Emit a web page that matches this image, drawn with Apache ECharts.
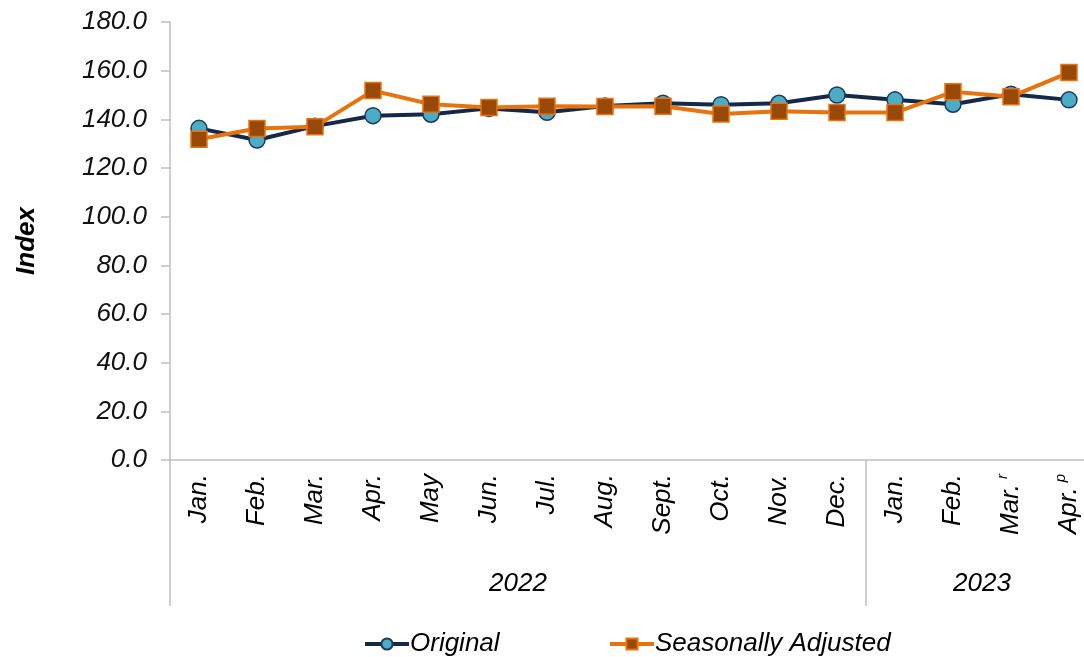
<!DOCTYPE html>
<html>
<head>
<meta charset="utf-8">
<script src="https://cdn.jsdelivr.net/npm/echarts@6/dist/echarts.min.js"></script>
<style>
  html, body { margin: 0; padding: 0; background: #fff; }
  #echart { width: 1084px; height: 657px; }
</style>
</head>
<body>
<div id="echart"></div>
<script>
var months = ['Jan.', 'Feb.', 'Mar.', 'Apr.', 'May', 'Jun.', 'Jul.', 'Aug.', 'Sept.', 'Oct.', 'Nov.', 'Dec.',
              'Jan.', 'Feb.', 'Mar.', 'Apr.'];
var monthNotes = ['', '', '', '', '', '', '', '', '', '', '', '', '', '', 'r', 'p'];
var years = ['2022', '2023'];
var yearSpans = [12, 4];
var original = [136.3, 131.5, 137.2, 141.5, 142.1, 144.5, 142.9, 145.5, 146.6, 146.0, 146.6, 150.0, 148.0, 146.2, 150.3, 148.0];
var seasonal = [131.8, 136.2, 137.0, 151.8, 146.2, 144.9, 145.4, 145.3, 145.4, 142.2, 143.3, 142.8, 142.8, 151.3, 149.3, 159.2];
var yTicks = [0, 20, 40, 60, 80, 100, 120, 140, 160, 180];

var font = 'Liberation Sans, Arial, sans-serif';
var monthLabels = months.map(function (m, i) {
    return monthNotes[i] ? '{m|' + m + '}{s|' + monthNotes[i] + '}' : '{m|' + m + '}';
});

// boundaries and centres of the year groups on the 0..16 value scale
var yearBounds = [0];
var yearCentres = [];
yearSpans.forEach(function (n, i) {
    var start = yearBounds[yearBounds.length - 1];
    yearCentres.push(start + n / 2);
    yearBounds.push(start + n);
});

var legendText = { fontFamily: font, fontStyle: 'italic', fontSize: 26, color: '#000', padding: [0, 0, 0, -4] };

var myChart = echarts.init(document.getElementById('echart'));
var option = {
    animation: false,
    grid: { left: 170, top: 22, width: 928, bottom: 197, outerBoundsMode: 'none' },
    legend: [{
        left: 358,
        top: 626,
        itemWidth: 44,
        itemHeight: 14,
        lineStyle: { width: 4 },
        textStyle: legendText,
        data: ['Original']
    }, {
        left: 603,
        top: 626,
        itemWidth: 44,
        itemHeight: 14,
        lineStyle: { width: 4 },
        textStyle: legendText,
        data: ['Seasonally Adjusted']
    }],
    xAxis: [{
        type: 'category',
        data: monthLabels,
        boundaryGap: true,
        axisLine: { lineStyle: { color: '#bfbfbf', width: 1.5 } },
        axisTick: { show: false },
        axisLabel: {
            rotate: 90,
            margin: 14,
            interval: 0,
            rich: {
                m: { fontFamily: font, fontStyle: 'italic', fontSize: 26, color: '#000' },
                s: { fontFamily: font, fontStyle: 'italic', fontSize: 15, color: '#000', padding: [0, 0, 16, 5] }
            }
        }
    }, {
        type: 'value',
        min: 0,
        max: months.length,
        position: 'bottom',
        axisLine: { show: false },
        splitLine: { show: false },
        axisTick: {
            show: true,
            customValues: yearBounds,
            length: 146,
            lineStyle: { color: '#bfbfbf', width: 1.5 }
        },
        axisLabel: {
            customValues: yearCentres,
            margin: 111,
            fontFamily: font,
            fontStyle: 'italic',
            fontSize: 26,
            color: '#000',
            formatter: function (v) {
                var i = yearCentres.indexOf(v);
                return i >= 0 ? years[i] : '';
            }
        }
    }],
    yAxis: {
        type: 'value',
        min: yTicks[0],
        max: yTicks[yTicks.length - 1],
        interval: 20,
        name: 'Index',
        nameLocation: 'middle',
        nameGap: 130,
        nameRotate: 90,
        nameTextStyle: { fontFamily: font, fontStyle: 'italic', fontWeight: 'bold', fontSize: 26, color: '#000' },
        axisLine: { show: true, lineStyle: { color: '#bfbfbf', width: 1.5 } },
        axisTick: { show: true, length: 9, lineStyle: { color: '#bfbfbf', width: 1.5 } },
        splitLine: { show: false },
        axisLabel: {
            margin: 23,
            fontFamily: font,
            fontStyle: 'italic',
            fontSize: 26,
            color: '#111',
            formatter: function (v) { return v.toFixed(1); }
        }
    },
    series: [{
        name: 'Original',
        type: 'line',
        data: original,
        symbol: 'circle',
        symbolSize: 16,
        lineStyle: { color: '#14294a', width: 4 },
        itemStyle: { color: '#4bacc6', borderColor: '#1f3a5f', borderWidth: 1.5 },
        z: 2
    }, {
        name: 'Seasonally Adjusted',
        type: 'line',
        data: seasonal,
        symbol: 'rect',
        symbolSize: 16,
        lineStyle: { color: '#e8730c', width: 4 },
        itemStyle: { color: '#984807', borderColor: '#e8730c', borderWidth: 1.5 },
        z: 3
    }]
};
myChart.setOption(option);
</script>
</body>
</html>
